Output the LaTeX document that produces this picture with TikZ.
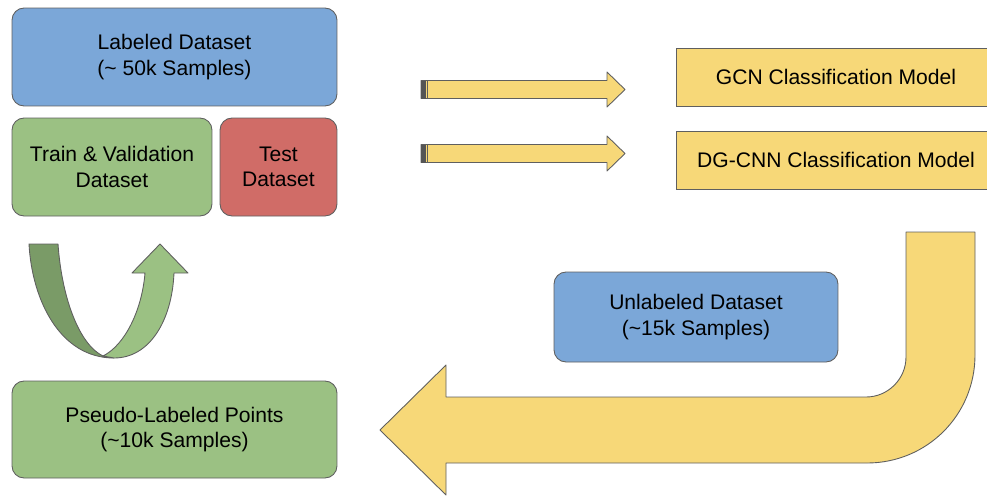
\documentclass[tikz,border=0pt]{standalone}
\usepackage{fontspec}
\setmainfont{Liberation Sans}
\usetikzlibrary{positioning}
\definecolor{edge}{HTML}{5F5F5F}
\definecolor{blue}{HTML}{7BA7D8}
\definecolor{green}{HTML}{9BC183}
\definecolor{darkgreen}{HTML}{7A9B67}
\definecolor{red}{HTML}{D06C67}
\definecolor{yellow}{HTML}{F7D878}
\tikzset{
  box/.style={
    draw=edge, line width=0.5pt, rounded corners=0.24cm,
    inner sep=0pt, align=center,
    font=\fontsize{12}{14.5}\selectfont
  },
  model/.style={
    draw=edge, line width=0.5pt, fill=yellow,
    inner sep=0pt, align=center,
    font=\fontsize{12}{14.5}\selectfont
  },
  block/.style={draw=edge, line width=0.5pt, line join=round}
}

\begin{document}
\begin{tikzpicture}[x=0.02cm, y=-0.02cm]
  \useasboundingbox (0,0) rectangle (987,495);
  % datasets
  \node[box, fill=blue, minimum width=6.5cm, minimum height=1.96cm] (labeled) at (174.5,57) {Labeled Dataset\\(\textasciitilde{} 50k Samples)};
  \node[box, fill=green, minimum width=4cm, minimum height=1.96cm] (trainval) at (112,167) {Train \& Validation\\Dataset};
  \node[box, fill=red, minimum width=2.34cm, minimum height=1.96cm] (test) at (278.5,167) {Test\\Dataset};
  \node[box, fill=blue, minimum width=5.68cm, minimum height=1.8cm] (unlabeled) at (696,317) {Unlabeled Dataset\\(\textasciitilde15k Samples)};
  \node[box, fill=green, minimum width=6.5cm, minimum height=1.94cm] (pseudo) at (174.5,429.5) {Pseudo-Labeled Points\\(\textasciitilde10k Samples)};
  % models
  \node[model, minimum width=6.4cm, minimum height=1.16cm] (gcn) at (836,77) {GCN Classification Model};
  \node[model, minimum width=6.4cm, minimum height=1.16cm] (dgcnn) at (836,160) {DG-CNN Classification Model};
  % straight arrows
  \coordinate (ar1) at (421,89.5);
  \coordinate (ar2) at (421,153.5);
  \foreach \a in {ar1,ar2} {
    \draw[block, fill=yellow] (\a) ++(0,-9) -- ++(186,0) -- ++(0,-8.5) -- ++(18,17.5)
      -- ++(-18,17.5) -- ++(0,-8.5) -- ++(-186,0) -- cycle;
    \fill[edge!90!black] (\a) ++(0,-9) rectangle ++(4.5,18);
    \draw[edge, line width=0.6pt] (\a) ++(6.5,-9) -- ++(0,18);
  }
  % self-training loop
  \draw[block, fill=darkgreen] (29,244) -- (58,244) .. controls (62,300) and (80,345) .. (103,356)
    -- (114,358) .. controls (60,358) and (32,300) .. (29,244) -- cycle;
  \draw[block, fill=green] (103,356) .. controls (125,345) and (142,310) .. (145,273) -- (132,273)
    -- (160,244) -- (188,273) -- (174,273) .. controls (172,320) and (150,358) .. (114,358) -- cycle;
  % feedback arrow
  \draw[block, fill=yellow] (446,397) -- (866,397) .. controls (888,397) and (906,379) .. (906,357)
    -- (906,232) -- (975,232) -- (975,355) .. controls (975,415) and (927,463) .. (867,463)
    -- (446,463) -- (446,495) -- (380,430) -- (446,365) -- cycle;
\end{tikzpicture}
\end{document}
